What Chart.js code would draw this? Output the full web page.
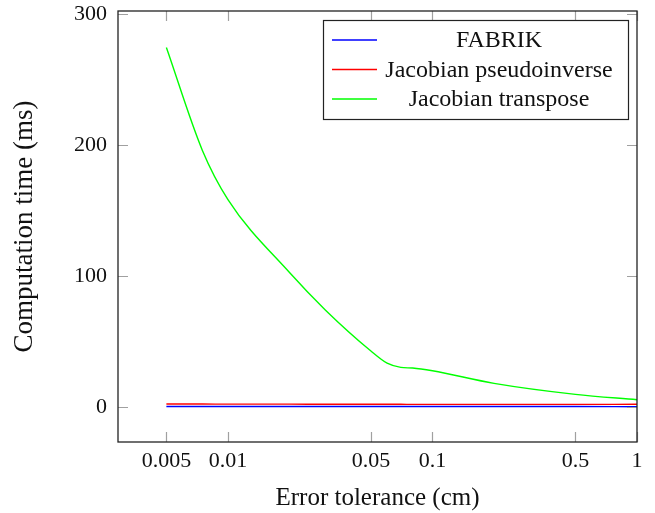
<!DOCTYPE html>
<html>
<head>
<meta charset="utf-8">
<script src="https://cdn.jsdelivr.net/npm/chart.js@4/dist/chart.umd.min.js"></script>
<style>
  html, body { margin: 0; padding: 0; background: #fff; }
  #wrap { width: 655px; height: 513px; }
</style>
</head>
<body>
<div id="wrap"><canvas id="chart" width="655" height="513"></canvas></div>
<script>
// error tolerance (cm)
const tolerance = [0.005, 0.0075, 0.01, 0.02, 0.03, 0.05, 0.06, 0.07, 0.08, 0.1, 0.2, 0.5, 1]

// computation time (ms)
const fabrik = [0.4, 0.4, 0.4, 0.4, 0.4, 0.4, 0.4, 0.4, 0.4, 0.4, 0.4, 0.4, 0.2]
const pseudoinverse = [2.3, 2.3, 2.2, 2.2, 2.1, 2.1, 2.1, 2.1, 2.0, 2.0, 2.0, 2.0, 2.1]
const transpose = [274.6, 196, 158.5, 102.7, 74, 42.8, 33.5, 30.3, 29.8, 27.7, 18.1, 9.7, 5.6]

const xTicks = [0.005, 0.01, 0.05, 0.1, 0.5, 1]
const yTicks = [0, 100, 200, 300]

const seriesNames = ['FABRIK', 'Jacobian pseudoinverse', 'Jacobian transpose']
const seriesColors = ['#0000ff', '#ff0000', '#00ff00']

const serif = "'Liberation Serif', 'DejaVu Serif', serif"

function toPoints(ys) {
    return tolerance.map((x, i) => ({ x: x, y: ys[i] }))
}

// draws the plot frame with inward tick marks on all four sides
const framePlugin = {
    id: 'frame',
    afterDatasetsDraw(chart) {
        const ctx = chart.ctx
        const a = chart.chartArea
        const xs = chart.scales.x
        const ys = chart.scales.y
        const len = 10

        ctx.save()
        ctx.strokeStyle = '#a0a0a0'
        ctx.lineWidth = 1.2
        ctx.beginPath()
        xTicks.forEach(v => {
            const px = Math.round(xs.getPixelForValue(v)) + 0.5
            ctx.moveTo(px, a.bottom); ctx.lineTo(px, a.bottom - len)
            ctx.moveTo(px, a.top); ctx.lineTo(px, a.top + len)
        })
        yTicks.forEach(v => {
            const py = Math.round(ys.getPixelForValue(v)) + 0.5
            ctx.moveTo(a.left, py); ctx.lineTo(a.left + len, py)
            ctx.moveTo(a.right, py); ctx.lineTo(a.right - len, py)
        })
        ctx.stroke()

        ctx.strokeStyle = '#222'
        ctx.lineWidth = 1.3
        ctx.strokeRect(a.left, a.top, a.right - a.left, a.bottom - a.top)
        ctx.restore()
    }
}

// pgfplots style legend box in the upper right corner
const legendPlugin = {
    id: 'boxLegend',
    afterDraw(chart) {
        const ctx = chart.ctx
        const a = chart.chartArea
        const right = a.right - 9
        const left = right - 305
        const top = a.top + 9
        const h = 99

        ctx.save()
        ctx.fillStyle = '#fff'
        ctx.fillRect(left, top, right - left, h)
        ctx.strokeStyle = '#222'
        ctx.lineWidth = 1.2
        ctx.strokeRect(left + 0.5, top + 0.5, right - left, h)

        ctx.font = '24px ' + serif
        ctx.textAlign = 'center'
        ctx.textBaseline = 'middle'
        chart.data.datasets.forEach((ds, i) => {
            const y = top + 20 + i * 29.5
            ctx.strokeStyle = ds.borderColor
            ctx.lineWidth = 1.5
            ctx.beginPath()
            ctx.moveTo(left + 9, y)
            ctx.lineTo(left + 54, y)
            ctx.stroke()
            ctx.fillStyle = '#111'
            ctx.fillText(ds.label, left + 176, y + 1)
        })
        ctx.restore()
    }
}

const ctx = document.getElementById('chart').getContext('2d')

new Chart(ctx, {
    type: 'line',
    data: {
        datasets: [fabrik, pseudoinverse, transpose].map((ys, i) => ({
            label: seriesNames[i],
            data: toPoints(ys),
            borderColor: seriesColors[i],
            backgroundColor: seriesColors[i],
            borderWidth: 1.4,
            pointRadius: 0,
            cubicInterpolationMode: 'monotone',
            fill: false
        }))
    },
    options: {
        responsive: false,
        animation: false,
        devicePixelRatio: 1,
        layout: { padding: { top: 11, right: 18, left: 0, bottom: 0 } },
        plugins: {
            legend: { display: false },
            tooltip: { enabled: false }
        },
        scales: {
            x: {
                type: 'logarithmic',
                min: 0.0029,
                max: 1,
                afterBuildTicks: scale => { scale.ticks = xTicks.map(v => ({ value: v })) },
                afterFit: scale => {
                    scale.height = 71
                    scale.paddingLeft = 0
                    scale.paddingRight = 0
                },
                grid: { display: false, drawTicks: false },
                border: { display: false },
                ticks: {
                    autoSkip: false,
                    maxRotation: 0,
                    padding: 6,
                    color: '#111',
                    font: { family: serif, size: 22 },
                    callback: v => String(v)
                },
                title: {
                    display: true,
                    text: 'Error tolerance (cm)',
                    color: '#111',
                    font: { family: serif, size: 25 },
                    padding: { top: 0, bottom: 0 }
                }
            },
            y: {
                min: -26.7,
                max: 302.5,
                afterBuildTicks: scale => { scale.ticks = yTicks.map(v => ({ value: v })) },
                afterFit: scale => {
                    scale.width = 118
                    scale.paddingTop = 0
                    scale.paddingBottom = 0
                },
                grid: { display: false, drawTicks: false },
                border: { display: false },
                ticks: {
                    padding: 11,
                    color: '#111',
                    font: { family: serif, size: 22 }
                },
                title: {
                    display: true,
                    text: 'Computation time (ms)',
                    color: '#111',
                    font: { family: serif, size: 27 },
                    padding: { top: 9, bottom: 0 }
                }
            }
        }
    },
    plugins: [framePlugin, legendPlugin]
})
</script>
</body>
</html>
